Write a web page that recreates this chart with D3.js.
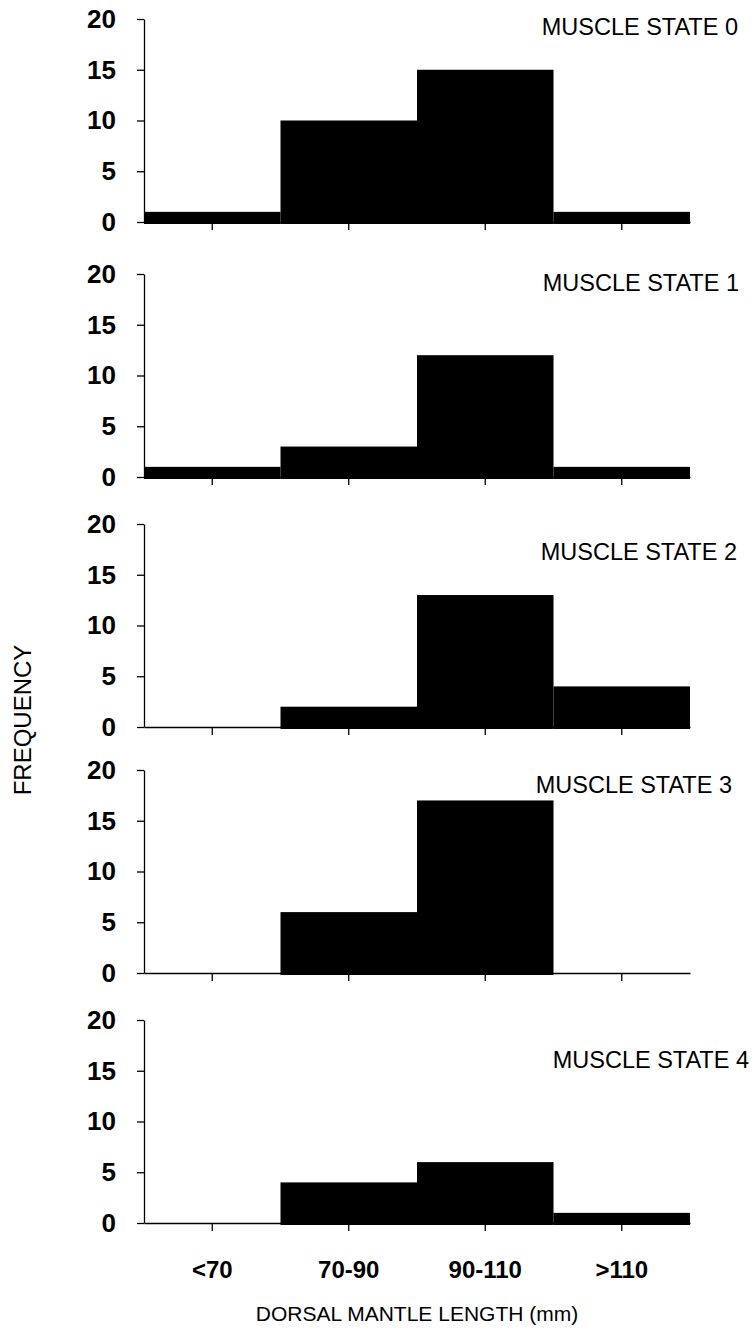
<!DOCTYPE html>
<html>
<head>
<meta charset="utf-8">
<script src="https://cdn.jsdelivr.net/npm/d3@7"></script>
<style>
  body { margin: 0; background: #fff; }
  svg { display: block; font-family: "Liberation Sans", Arial, sans-serif; }
  .axis path, .axis line { stroke: #000; stroke-width: 1.3; }
  .ytick text { font-size: 26px; font-weight: bold; fill: #000; }
  .xtick text { font-size: 24px; font-weight: bold; fill: #000; }
</style>
</head>
<body>
<svg id="chart"></svg>
<script>
// size classes (mm) and frequencies
var categories = ["<70", "70-90", "90-110", ">110"];
var stateNames = ["MUSCLE STATE 0", "MUSCLE STATE 1", "MUSCLE STATE 2", "MUSCLE STATE 3", "MUSCLE STATE 4"];
var state0 = [1, 10, 15, 1];
var state1 = [1, 3, 12, 1];
var state2 = [0, 2, 13, 4];
var state3 = [0, 6, 17, 0];
var state4 = [0, 4, 6, 1];
var yTicks = [0, 5, 10, 15, 20];

var allStates = [state0, state1, state2, state3, state4];

// layout
var W = 755, H = 1335;
var left = 144, right = 690;
var panelH = 203;
var zeroY = [222, 477, 727, 973, 1223];      // baseline of each panel
var titleY = [27, 283, 552, 785, 1060];      // label centres
var titleX = [738, 739, 737, 732, 749];

var svg = d3.select("#chart")
  .attr("width", W)
  .attr("height", H);

var x = d3.scaleBand()
  .domain(categories)
  .range([left, right])
  .padding(0);

allStates.forEach(function (vals, i) {
  var y = d3.scaleLinear()
    .domain([0, 20])
    .range([zeroY[i], zeroY[i] - panelH]);

  var g = svg.append("g");

  // bars
  g.selectAll("rect")
    .data(vals.map(function (v, j) { return { cat: categories[j], v: v }; }).filter(function (d) { return d.v > 0; }))
    .enter().append("rect")
    .attr("x", function (d) { return x(d.cat); })
    .attr("width", x.bandwidth())
    .attr("y", function (d) { return y(d.v); })
    .attr("height", function (d) { return y(0) - y(d.v) + 2; })
    .attr("fill", "#000");

  // x axis (ticks at band centres)
  var xa = g.append("g")
    .attr("class", "axis xtick")
    .attr("transform", "translate(0," + zeroY[i] + ")")
    .call(d3.axisBottom(x).tickSize(8).tickSizeOuter(0).tickPadding(30));
  if (i < 4) xa.selectAll("text").remove();

  // y axis
  g.append("g")
    .attr("class", "axis ytick")
    .attr("transform", "translate(" + left + ",0)")
    .call(d3.axisLeft(y).tickValues(yTicks).tickSize(7).tickSizeOuter(0).tickPadding(21));

  // panel label
  g.append("text")
    .attr("x", titleX[i])
    .attr("y", titleY[i])
    .attr("dy", "0.36em")
    .attr("text-anchor", "end")
    .style("font-size", "23.5px")
    .text(stateNames[i]);
});

// axis titles
svg.append("text")
  .attr("x", 417)
  .attr("y", 1313)
  .attr("dy", "0.36em")
  .attr("text-anchor", "middle")
  .style("font-size", "21px")
  .text("DORSAL MANTLE LENGTH (mm)");

svg.append("text")
  .attr("transform", "translate(22,720) rotate(-90)")
  .attr("dy", "0.36em")
  .attr("text-anchor", "middle")
  .style("font-size", "24px")
  .text("FREQUENCY");
</script>
</body>
</html>
